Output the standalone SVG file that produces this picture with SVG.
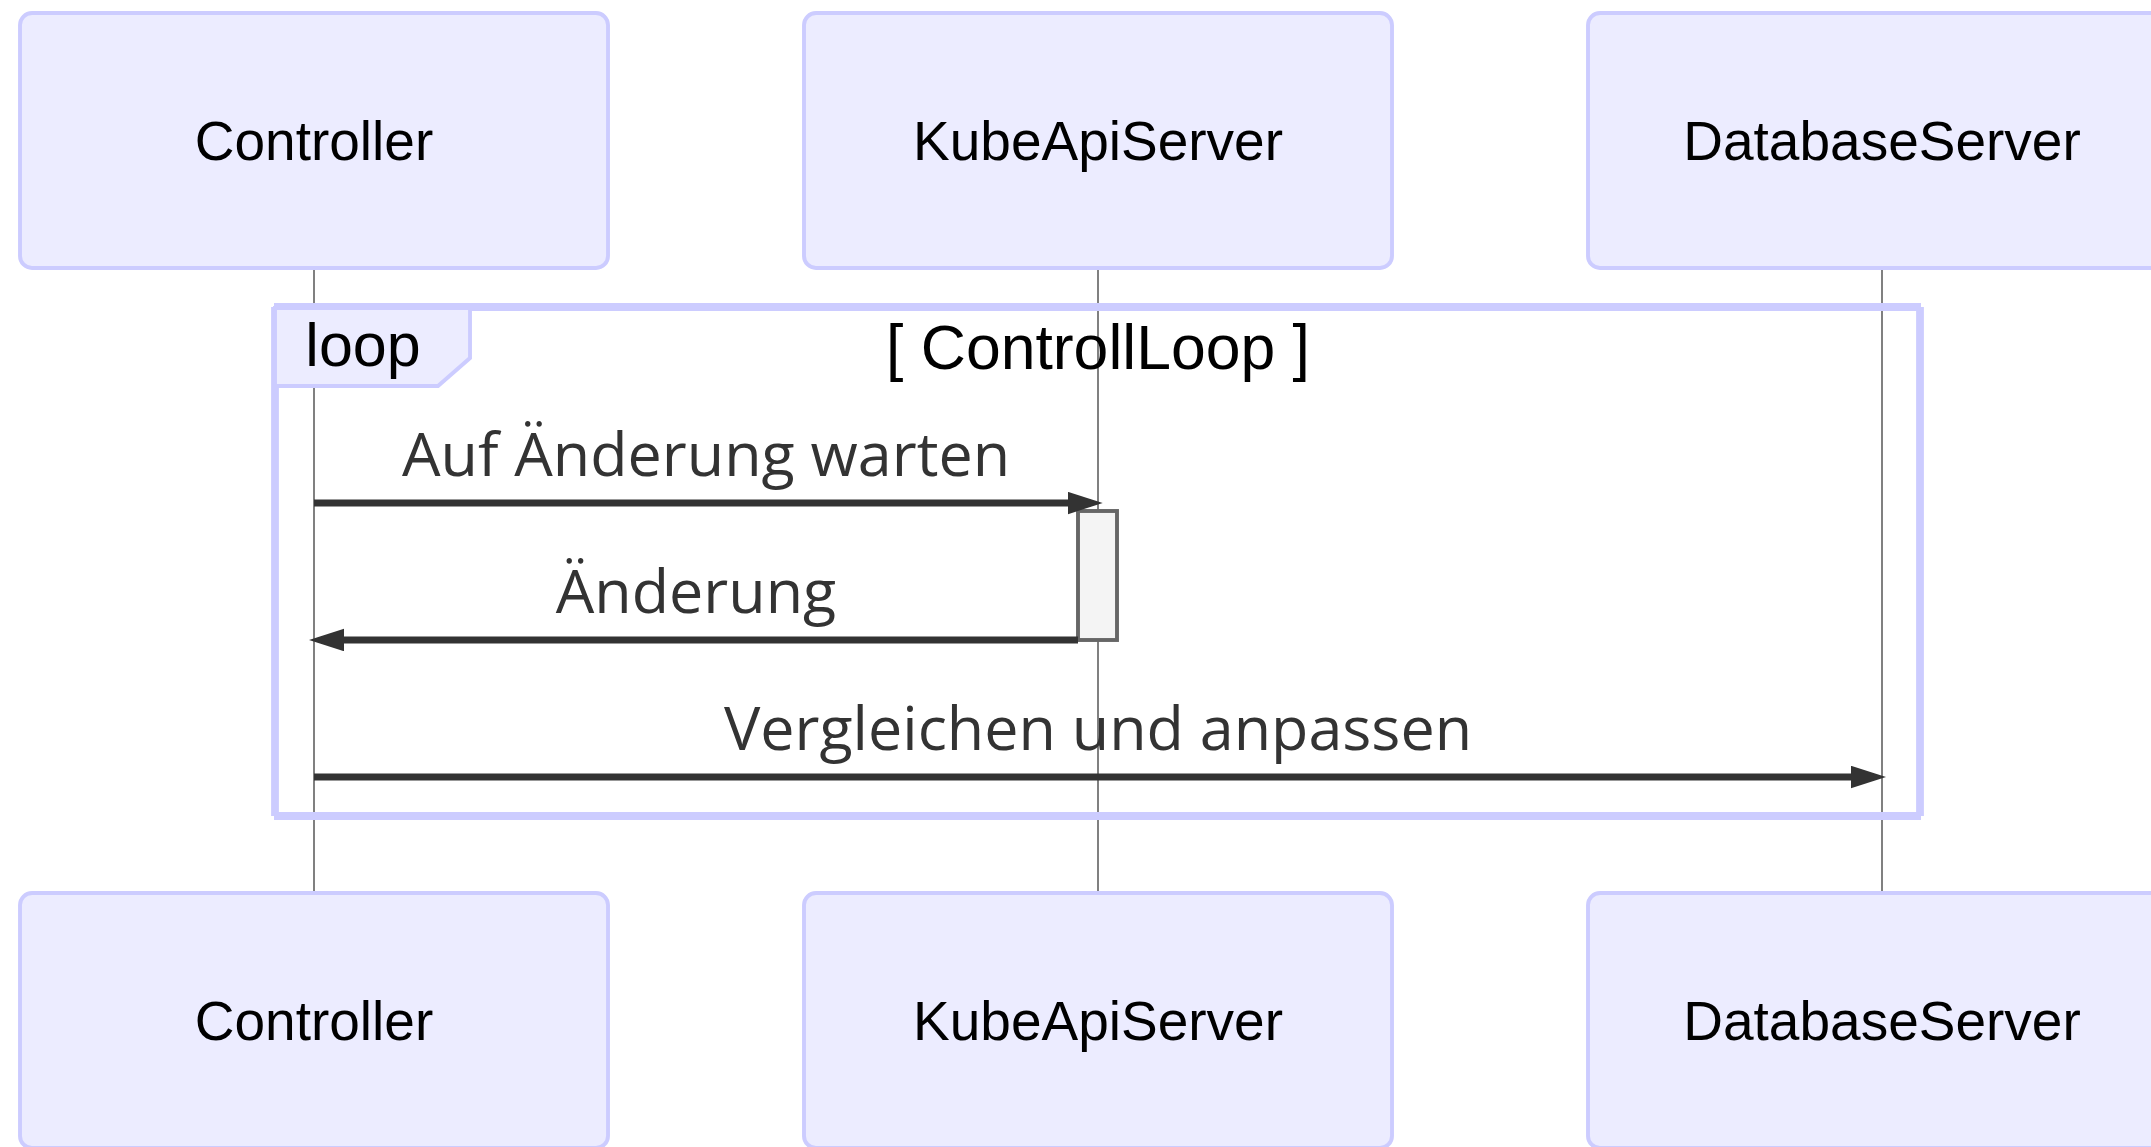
<svg xmlns="http://www.w3.org/2000/svg" width="2151" height="1147" viewBox="0 0 2151 1147">
<style>
.actor{fill:#ECECFF;stroke:#CCCCFF;stroke-width:3.9}
.actor-text{font-family:"Liberation Sans",Arial,sans-serif;font-size:55px;fill:#000;text-anchor:middle}
.lifeline{stroke:#808080;stroke-width:2}
.msg{stroke:#333;stroke-width:7;fill:none}
.msg-text{font-family:"Open Sans","Liberation Sans",sans-serif;font-size:61px;fill:#333;text-anchor:middle}
.loop-line{stroke:#CCCCFF;stroke-width:7.8;fill:none}
.label-box{fill:#ECECFF;stroke:#CCCCFF;stroke-width:3.9}
.loop-text{font-family:"Liberation Sans",Arial,sans-serif;font-size:61px;fill:#000;text-anchor:middle}
.title-text{font-family:"Liberation Sans",Arial,sans-serif;font-size:62.5px;fill:#000;text-anchor:middle}
.activation{fill:#F4F4F4;stroke:#666;stroke-width:3.9}
</style>
<defs>
<marker id="arrowhead" markerUnits="userSpaceOnUse" markerWidth="36" markerHeight="23" refX="23" refY="11.25" orient="auto">
<path d="M0,0 L35,11.25 L0,22.5 z" fill="#333"/>
</marker>
</defs>
<g id="lifelines">
<line class="lifeline" x1="314" y1="268" x2="314" y2="893"/>
<line class="lifeline" x1="1098" y1="268" x2="1098" y2="893"/>
<line class="lifeline" x1="1882" y1="268" x2="1882" y2="893"/>
</g>
<g id="actor-controller-top"><rect class="actor" x="20" y="13" width="588" height="255" rx="12"/><text class="actor-text" x="314" y="160">Controller</text></g>
<g id="actor-kubeapiserver-top"><rect class="actor" x="804" y="13" width="588" height="255" rx="12"/><text class="actor-text" x="1098" y="160">KubeApiServer</text></g>
<g id="actor-databaseserver-top"><rect class="actor" x="1588" y="13" width="588" height="255" rx="12"/><text class="actor-text" x="1882" y="160">DatabaseServer</text></g>
<g id="actor-controller-bottom"><rect class="actor" x="20" y="893" width="588" height="255" rx="12"/><text class="actor-text" x="314" y="1040">Controller</text></g>
<g id="actor-kubeapiserver-bottom"><rect class="actor" x="804" y="893" width="588" height="255" rx="12"/><text class="actor-text" x="1098" y="1040">KubeApiServer</text></g>
<g id="actor-databaseserver-bottom"><rect class="actor" x="1588" y="893" width="588" height="255" rx="12"/><text class="actor-text" x="1882" y="1040">DatabaseServer</text></g>
<g id="loop">
<line class="loop-line" x1="274" y1="307" x2="1921" y2="307"/>
<line class="loop-line" x1="1920" y1="307" x2="1920" y2="816"/>
<line class="loop-line" x1="274" y1="816" x2="1921" y2="816"/>
<line class="loop-line" x1="275" y1="307" x2="275" y2="816"/>
<polygon class="label-box" points="275,308 470,308 470,358 438,386 275,386"/>
<text class="loop-text" x="363" y="366">loop</text>
<text class="title-text" x="1098" y="369">[ ControllLoop ]</text>
</g>
<g id="activation-kubeapiserver"><rect class="activation" x="1078" y="511" width="39" height="129"/></g>
<g id="connectors">
<line class="msg" x1="314" y1="503" x2="1090.7" y2="503" marker-end="url(#arrowhead)"/>
<text class="msg-text" x="706" y="476">Auf Änderung warten</text>
<line class="msg" x1="1078" y1="640" x2="321" y2="640" marker-end="url(#arrowhead)"/>
<text class="msg-text" x="696" y="613">Änderung</text>
<line class="msg" x1="314" y1="777" x2="1874" y2="777" marker-end="url(#arrowhead)"/>
<text class="msg-text" x="1098" y="750">Vergleichen und anpassen</text>
</g>
</svg>
